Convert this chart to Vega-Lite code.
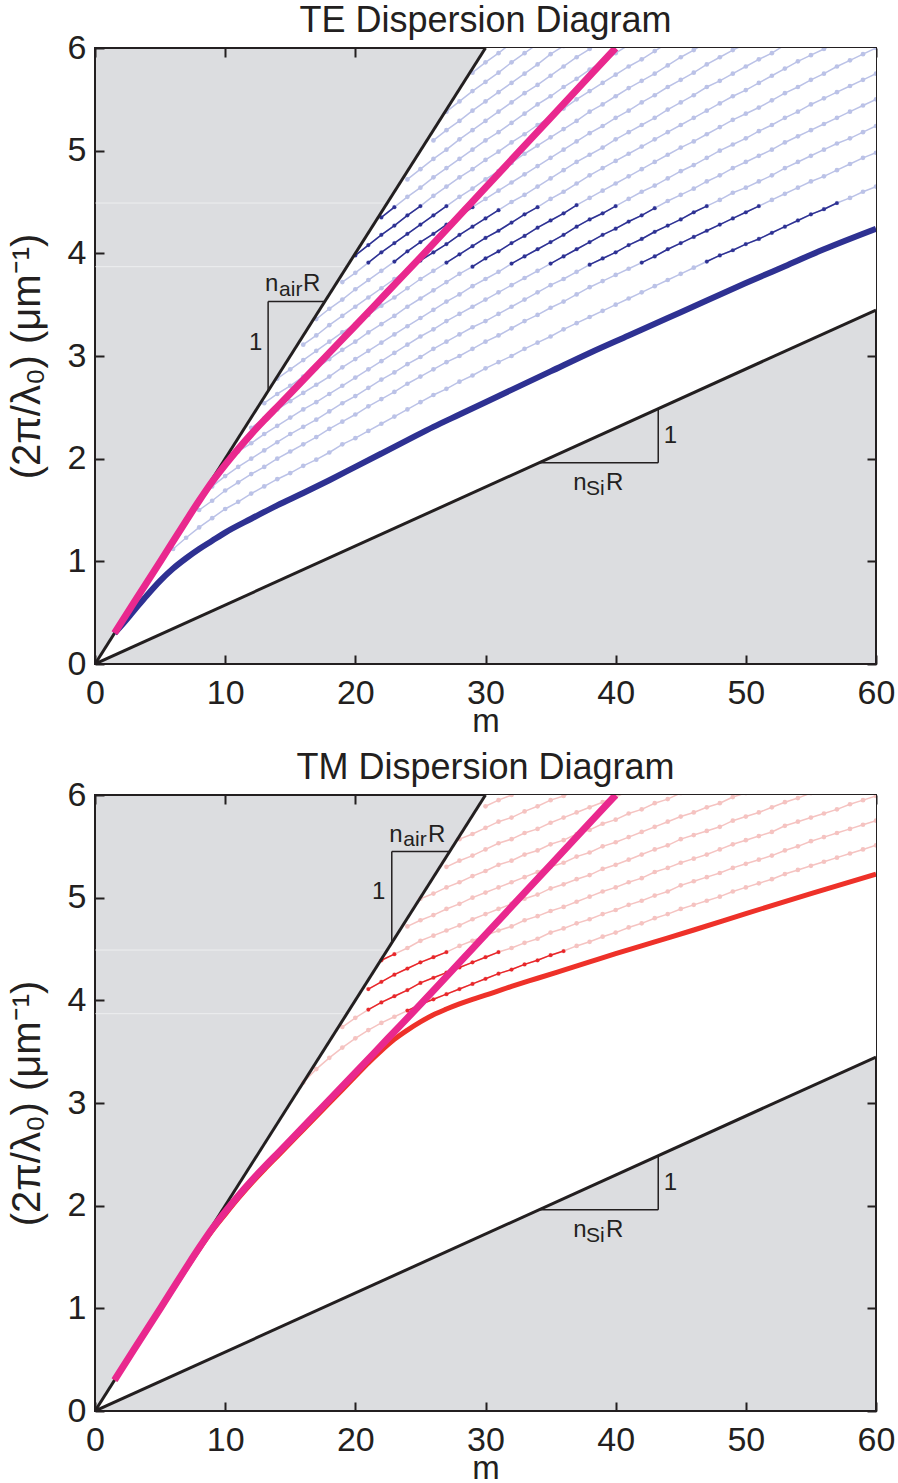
{
"$schema": "https://vega.github.io/schema/vega-lite/v6.json",
"background": "white",
"padding": {"left": 6, "top": 2, "right": 4, "bottom": 0},
"spacing": 10,
"config": {
 "view": {"stroke": "#231f20", "strokeWidth": 2, "fill": "#dcdde0"},
 "axis": {"labelFont": "Liberation Sans", "titleFont": "Liberation Sans", "labelFontSize": 34, "titleFontSize": 40, "titleFontWeight": "normal", "labelColor": "#231f20", "titleColor": "#231f20", "grid": false, "domain": false, "tickColor": "#231f20", "tickWidth": 2, "tickSize": -9, "labelFlush": false, "labelOverlap": false},
 "title": {"font": "Liberation Sans", "fontSize": 36, "fontWeight": "normal", "color": "#231f20", "offset": -9}
},
"datasets": {
 "bnd": [{"m":0,"hi":0,"lo":0},{"m":30,"hi":6,"lo":1.724},{"m":60,"hi":6,"lo":3.448}],
 "blk": [{"g":"air","m":0,"k":0},{"g":"air","m":30,"k":6},{"g":"si","m":0,"k":0},{"g":"si","m":60,"k":3.448}],
 "band": [{"m":0,"m2":19.35,"k":3.87},{"m":0,"m2":22.45,"k":4.49}],
 "triTE": [{"m":13.3,"m2":13.3,"k":2.66,"k2":3.53},{"m":13.3,"m2":17.65,"k":3.53,"k2":3.53},{"m":43.27,"m2":43.27,"k":1.96,"k2":2.49},{"m":34.1,"m2":43.27,"k":1.96,"k2":1.96}],
 "triTM": [{"m":22.8,"m2":22.8,"k":4.56,"k2":5.45},{"m":22.8,"m2":27.25,"k":5.45,"k2":5.45},{"m":43.27,"m2":43.27,"k":1.96,"k2":2.49},{"m":34.1,"m2":43.27,"k":1.96,"k2":1.96}],
 "bigTE": [{"t":"n","m":13.06,"k":3.63},{"t":"R","m":15.98,"k":3.63},{"t":"1","m":11.84,"k":3.06},{"t":"n","m":36.75,"k":1.69},{"t":"R","m":39.26,"k":1.69},{"t":"1","m":43.7,"k":2.15}],
 "subTE": [{"t":"air","m":14.14,"k":3.585},{"t":"Si","m":37.72,"k":1.645}],
 "bigTM": [{"t":"n","m":22.61,"k":5.545},{"t":"R","m":25.58,"k":5.545},{"t":"1","m":21.29,"k":4.99},{"t":"n","m":36.75,"k":1.69},{"t":"R","m":39.26,"k":1.69},{"t":"1","m":43.7,"k":2.15}],
 "subTM": [{"t":"air","m":23.69,"k":5.5},{"t":"Si","m":37.72,"k":1.645}],
 "mag": [{"m":1.5,"k":0.3},{"m":3,"k":0.6},{"m":5,"k":0.995},{"m":7,"k":1.395},{"m":8,"k":1.59},{"m":9,"k":1.775},{"m":10,"k":1.94},{"m":11,"k":2.095},{"m":12,"k":2.24},{"m":13,"k":2.375},{"m":14,"k":2.505},{"m":15,"k":2.635},{"m":17.5,"k":2.965},{"m":20,"k":3.295},{"m":22.5,"k":3.628},{"m":25,"k":3.96},{"m":30,"k":4.64},{"m":35,"k":5.32},{"m":40,"k":6.0}],
 "te1": [{"m":1.5,"k":0.3},{"m":2,"k":0.37},{"m":3,"k":0.52},{"m":4,"k":0.67},{"m":5,"k":0.81},{"m":6,"k":0.93},{"m":7,"k":1.03},{"m":8,"k":1.12},{"m":9,"k":1.2},{"m":10,"k":1.28},{"m":12,"k":1.415},{"m":14,"k":1.545},{"m":16,"k":1.665},{"m":18,"k":1.79},{"m":20,"k":1.92},{"m":22,"k":2.05},{"m":24,"k":2.18},{"m":26,"k":2.31},{"m":28,"k":2.43},{"m":30,"k":2.55},{"m":32,"k":2.67},{"m":35,"k":2.85},{"m":38,"k":3.03},{"m":41,"k":3.2},{"m":44,"k":3.37},{"m":47,"k":3.54},{"m":50,"k":3.71},{"m":53,"k":3.875},{"m":56,"k":4.04},{"m":60,"k":4.24}],
 "tm1": [{"m":1.5,"k":0.3},{"m":3,"k":0.6},{"m":5,"k":0.99},{"m":7,"k":1.385},{"m":8,"k":1.575},{"m":9,"k":1.755},{"m":10,"k":1.915},{"m":11,"k":2.07},{"m":12,"k":2.215},{"m":13,"k":2.35},{"m":14,"k":2.48},{"m":16,"k":2.74},{"m":18,"k":3.0},{"m":19,"k":3.13},{"m":20,"k":3.26},{"m":21,"k":3.39},{"m":22,"k":3.51},{"m":23,"k":3.62},{"m":24,"k":3.71},{"m":25,"k":3.79},{"m":26,"k":3.86},{"m":27,"k":3.915},{"m":28,"k":3.965},{"m":29,"k":4.01},{"m":30,"k":4.05},{"m":32,"k":4.135},{"m":34,"k":4.215},{"m":36,"k":4.295},{"m":38,"k":4.375},{"m":40,"k":4.455},{"m":43,"k":4.57},{"m":46,"k":4.685},{"m":50,"k":4.845},{"m":55,"k":5.04},{"m":60,"k":5.23}],
 "te": [
{"c":2,"m":6,"k":1.12},{"c":2,"m":7,"k":1.23},{"c":2,"m":8,"k":1.33},{"c":2,"m":9,"k":1.42},{"c":2,"m":10,"k":1.51},{"c":2,"m":11,"k":1.58},{"c":2,"m":12,"k":1.66},{"c":2,"m":13,"k":1.73},{"c":2,"m":14,"k":1.8},{"c":2,"m":15,"k":1.86},{"c":2,"m":16,"k":1.93},{"c":2,"m":17,"k":1.99},{"c":2,"m":18,"k":2.06},{"c":2,"m":19,"k":2.14},{"c":2,"m":20,"k":2.2},{"c":2,"m":21,"k":2.27},{"c":2,"m":22,"k":2.34},{"c":2,"m":23,"k":2.41},{"c":2,"m":24,"k":2.48},{"c":2,"m":25,"k":2.55},{"c":2,"m":26,"k":2.62},{"c":2,"m":27,"k":2.68},{"c":2,"m":28,"k":2.75},{"c":2,"m":29,"k":2.81},{"c":2,"m":30,"k":2.88},{"c":2,"m":31,"k":2.94},{"c":2,"m":32,"k":3.0},{"c":2,"m":33,"k":3.07},{"c":2,"m":34,"k":3.13},{"c":2,"m":35,"k":3.19},{"c":2,"m":36,"k":3.26},{"c":2,"m":37,"k":3.32},{"c":2,"m":38,"k":3.38},{"c":2,"m":39,"k":3.44},{"c":2,"m":40,"k":3.5},{"c":2,"m":41,"k":3.56},{"c":2,"m":42,"k":3.62},{"c":2,"m":43,"k":3.68},{"c":2,"m":44,"k":3.74},{"c":2,"m":45,"k":3.8},{"c":2,"m":46,"k":3.86},{"c":2,"m":47,"k":3.92},{"c":2,"m":48,"k":3.98},{"c":2,"m":49,"k":4.03},{"c":2,"m":50,"k":4.09},{"c":2,"m":51,"k":4.14},{"c":2,"m":52,"k":4.2},{"c":2,"m":53,"k":4.26},{"c":2,"m":54,"k":4.32},{"c":2,"m":55,"k":4.38},{"c":2,"m":56,"k":4.43},{"c":2,"m":57,"k":4.49},{"c":2,"m":58,"k":4.54},{"c":2,"m":59,"k":4.6},{"c":2,"m":60,"k":4.65},
{"c":3,"m":8,"k":1.5},{"c":3,"m":9,"k":1.59},{"c":3,"m":10,"k":1.69},{"c":3,"m":11,"k":1.77},{"c":3,"m":12,"k":1.85},{"c":3,"m":13,"k":1.92},{"c":3,"m":14,"k":2.0},{"c":3,"m":15,"k":2.07},{"c":3,"m":16,"k":2.14},{"c":3,"m":17,"k":2.21},{"c":3,"m":18,"k":2.29},{"c":3,"m":19,"k":2.36},{"c":3,"m":20,"k":2.43},{"c":3,"m":21,"k":2.51},{"c":3,"m":22,"k":2.58},{"c":3,"m":23,"k":2.65},{"c":3,"m":24,"k":2.73},{"c":3,"m":25,"k":2.8},{"c":3,"m":26,"k":2.87},{"c":3,"m":27,"k":2.94},{"c":3,"m":28,"k":3.0},{"c":3,"m":29,"k":3.07},{"c":3,"m":30,"k":3.14},{"c":3,"m":31,"k":3.2},{"c":3,"m":32,"k":3.27},{"c":3,"m":33,"k":3.34},{"c":3,"m":34,"k":3.4},{"c":3,"m":35,"k":3.47},{"c":3,"m":36,"k":3.53},{"c":3,"m":37,"k":3.6},{"c":3,"m":38,"k":3.67},{"c":3,"m":39,"k":3.73},{"c":3,"m":40,"k":3.79},{"c":3,"m":41,"k":3.85},{"c":3,"m":42,"k":3.91},{"c":3,"m":43,"k":3.97},{"c":3,"m":44,"k":4.04},{"c":3,"m":45,"k":4.1},{"c":3,"m":46,"k":4.16},{"c":3,"m":47,"k":4.22},{"c":3,"m":48,"k":4.28},{"c":3,"m":49,"k":4.34},{"c":3,"m":50,"k":4.4},{"c":3,"m":51,"k":4.46},{"c":3,"m":52,"k":4.52},{"c":3,"m":53,"k":4.58},{"c":3,"m":54,"k":4.64},{"c":3,"m":55,"k":4.7},{"c":3,"m":56,"k":4.75},{"c":3,"m":57,"k":4.81},{"c":3,"m":58,"k":4.87},{"c":3,"m":59,"k":4.93},{"c":3,"m":60,"k":4.98},
{"c":4,"m":9,"k":1.73},{"c":4,"m":10,"k":1.83},{"c":4,"m":11,"k":1.92},{"c":4,"m":12,"k":2.0},{"c":4,"m":13,"k":2.08},{"c":4,"m":14,"k":2.16},{"c":4,"m":15,"k":2.24},{"c":4,"m":16,"k":2.31},{"c":4,"m":17,"k":2.38},{"c":4,"m":18,"k":2.46},{"c":4,"m":19,"k":2.54},{"c":4,"m":20,"k":2.61},{"c":4,"m":21,"k":2.69},{"c":4,"m":22,"k":2.77},{"c":4,"m":23,"k":2.84},{"c":4,"m":24,"k":2.92},{"c":4,"m":25,"k":2.99},{"c":4,"m":26,"k":3.07},{"c":4,"m":27,"k":3.14},{"c":4,"m":28,"k":3.21},{"c":4,"m":29,"k":3.28},{"c":4,"m":30,"k":3.34},{"c":4,"m":31,"k":3.41},{"c":4,"m":32,"k":3.48},{"c":4,"m":33,"k":3.55},{"c":4,"m":34,"k":3.62},{"c":4,"m":35,"k":3.69},{"c":4,"m":36,"k":3.75},{"c":4,"m":37,"k":3.82},{"c":4,"m":38,"k":3.89},{"c":4,"m":39,"k":3.95},{"c":4,"m":40,"k":4.01},{"c":4,"m":41,"k":4.08},{"c":4,"m":42,"k":4.14},{"c":4,"m":43,"k":4.21},{"c":4,"m":44,"k":4.27},{"c":4,"m":45,"k":4.33},{"c":4,"m":46,"k":4.4},{"c":4,"m":47,"k":4.46},{"c":4,"m":48,"k":4.52},{"c":4,"m":49,"k":4.59},{"c":4,"m":50,"k":4.64},{"c":4,"m":51,"k":4.7},{"c":4,"m":52,"k":4.76},{"c":4,"m":53,"k":4.83},{"c":4,"m":54,"k":4.89},{"c":4,"m":55,"k":4.95},{"c":4,"m":56,"k":5.01},{"c":4,"m":57,"k":5.07},{"c":4,"m":58,"k":5.12},{"c":4,"m":59,"k":5.18},{"c":4,"m":60,"k":5.24},
{"c":5,"m":10,"k":1.97},{"c":5,"m":11,"k":2.07},{"c":5,"m":12,"k":2.15},{"c":5,"m":13,"k":2.24},{"c":5,"m":14,"k":2.32},{"c":5,"m":15,"k":2.4},{"c":5,"m":16,"k":2.48},{"c":5,"m":17,"k":2.55},{"c":5,"m":18,"k":2.63},{"c":5,"m":19,"k":2.71},{"c":5,"m":20,"k":2.79},{"c":5,"m":21,"k":2.87},{"c":5,"m":22,"k":2.95},{"c":5,"m":23,"k":3.03},{"c":5,"m":24,"k":3.11},{"c":5,"m":25,"k":3.19},{"c":5,"m":26,"k":3.26},{"c":5,"m":27,"k":3.34},{"c":5,"m":28,"k":3.41},{"c":5,"m":29,"k":3.48},{"c":5,"m":30,"k":3.55},{"c":5,"m":31,"k":3.62},{"c":5,"m":32,"k":3.69},{"c":5,"m":33,"k":3.76},{"c":5,"m":34,"k":3.83},{"c":5,"m":35,"k":3.9},{"c":5,"m":36,"k":3.97},{"c":5,"m":37,"k":4.04},{"c":5,"m":38,"k":4.11},{"c":5,"m":39,"k":4.18},{"c":5,"m":40,"k":4.24},{"c":5,"m":41,"k":4.31},{"c":5,"m":42,"k":4.37},{"c":5,"m":43,"k":4.44},{"c":5,"m":44,"k":4.51},{"c":5,"m":45,"k":4.57},{"c":5,"m":46,"k":4.63},{"c":5,"m":47,"k":4.7},{"c":5,"m":48,"k":4.76},{"c":5,"m":49,"k":4.83},{"c":5,"m":50,"k":4.89},{"c":5,"m":51,"k":4.95},{"c":5,"m":52,"k":5.01},{"c":5,"m":53,"k":5.08},{"c":5,"m":54,"k":5.14},{"c":5,"m":55,"k":5.2},{"c":5,"m":56,"k":5.26},{"c":5,"m":57,"k":5.32},{"c":5,"m":58,"k":5.38},{"c":5,"m":59,"k":5.44},{"c":5,"m":60,"k":5.5},
{"c":6,"m":12,"k":2.3},{"c":6,"m":13,"k":2.39},{"c":6,"m":14,"k":2.48},{"c":6,"m":15,"k":2.56},{"c":6,"m":16,"k":2.64},{"c":6,"m":17,"k":2.72},{"c":6,"m":18,"k":2.8},{"c":6,"m":19,"k":2.89},{"c":6,"m":20,"k":2.97},{"c":6,"m":21,"k":3.05},{"c":6,"m":22,"k":3.13},{"c":6,"m":23,"k":3.21},{"c":6,"m":24,"k":3.29},{"c":6,"m":25,"k":3.37},{"c":6,"m":26,"k":3.45},{"c":6,"m":27,"k":3.53},{"c":6,"m":28,"k":3.6},{"c":6,"m":29,"k":3.68},{"c":6,"m":30,"k":3.75},{"c":6,"m":31,"k":3.82},{"c":6,"m":32,"k":3.9},{"c":6,"m":33,"k":3.97},{"c":6,"m":34,"k":4.04},{"c":6,"m":35,"k":4.11},{"c":6,"m":36,"k":4.18},{"c":6,"m":37,"k":4.26},{"c":6,"m":38,"k":4.33},{"c":6,"m":39,"k":4.39},{"c":6,"m":40,"k":4.46},{"c":6,"m":41,"k":4.53},{"c":6,"m":42,"k":4.6},{"c":6,"m":43,"k":4.66},{"c":6,"m":44,"k":4.73},{"c":6,"m":45,"k":4.8},{"c":6,"m":46,"k":4.86},{"c":6,"m":47,"k":4.93},{"c":6,"m":48,"k":5.0},{"c":6,"m":49,"k":5.06},{"c":6,"m":50,"k":5.12},{"c":6,"m":51,"k":5.19},{"c":6,"m":52,"k":5.25},{"c":6,"m":53,"k":5.32},{"c":6,"m":54,"k":5.38},{"c":6,"m":55,"k":5.45},{"c":6,"m":56,"k":5.51},{"c":6,"m":57,"k":5.57},{"c":6,"m":58,"k":5.63},{"c":6,"m":59,"k":5.69},{"c":6,"m":60,"k":5.75},
{"c":7,"m":13,"k":2.54},{"c":7,"m":14,"k":2.63},{"c":7,"m":15,"k":2.71},{"c":7,"m":16,"k":2.8},{"c":7,"m":17,"k":2.88},{"c":7,"m":18,"k":2.97},{"c":7,"m":19,"k":3.06},{"c":7,"m":20,"k":3.14},{"c":7,"m":21,"k":3.23},{"c":7,"m":22,"k":3.31},{"c":7,"m":23,"k":3.39},{"c":7,"m":24,"k":3.48},{"c":7,"m":25,"k":3.56},{"c":7,"m":26,"k":3.64},{"c":7,"m":27,"k":3.72},{"c":7,"m":28,"k":3.8},{"c":7,"m":29,"k":3.87},{"c":7,"m":30,"k":3.95},{"c":7,"m":31,"k":4.02},{"c":7,"m":32,"k":4.1},{"c":7,"m":33,"k":4.17},{"c":7,"m":34,"k":4.25},{"c":7,"m":35,"k":4.32},{"c":7,"m":36,"k":4.39},{"c":7,"m":37,"k":4.47},{"c":7,"m":38,"k":4.54},{"c":7,"m":39,"k":4.61},{"c":7,"m":40,"k":4.68},{"c":7,"m":41,"k":4.75},{"c":7,"m":42,"k":4.82},{"c":7,"m":43,"k":4.89},{"c":7,"m":44,"k":4.96},{"c":7,"m":45,"k":5.03},{"c":7,"m":46,"k":5.09},{"c":7,"m":47,"k":5.16},{"c":7,"m":48,"k":5.23},{"c":7,"m":49,"k":5.3},{"c":7,"m":50,"k":5.36},{"c":7,"m":51,"k":5.42},{"c":7,"m":52,"k":5.49},{"c":7,"m":53,"k":5.56},{"c":7,"m":54,"k":5.62},{"c":7,"m":55,"k":5.69},{"c":7,"m":56,"k":5.75},{"c":7,"m":57,"k":5.82},{"c":7,"m":58,"k":5.88},{"c":7,"m":59,"k":5.94},{"c":7,"m":60,"k":6.0},
{"c":8,"m":14,"k":2.78},{"c":8,"m":15,"k":2.87},{"c":8,"m":16,"k":2.96},{"c":8,"m":17,"k":3.05},{"c":8,"m":18,"k":3.14},{"c":8,"m":19,"k":3.23},{"c":8,"m":20,"k":3.31},{"c":8,"m":21,"k":3.4},{"c":8,"m":22,"k":3.49},{"c":8,"m":23,"k":3.57},{"c":8,"m":24,"k":3.66},{"c":8,"m":25,"k":3.75},{"c":8,"m":26,"k":3.83},{"c":8,"m":27,"k":3.91},{"c":8,"m":28,"k":3.99},{"c":8,"m":29,"k":4.07},{"c":8,"m":30,"k":4.15},{"c":8,"m":31,"k":4.22},{"c":8,"m":32,"k":4.3},{"c":8,"m":33,"k":4.38},{"c":8,"m":34,"k":4.45},{"c":8,"m":35,"k":4.53},{"c":8,"m":36,"k":4.6},{"c":8,"m":37,"k":4.68},{"c":8,"m":38,"k":4.76},{"c":8,"m":39,"k":4.83},{"c":8,"m":40,"k":4.9},{"c":8,"m":41,"k":4.97},{"c":8,"m":42,"k":5.04},{"c":8,"m":43,"k":5.11},{"c":8,"m":44,"k":5.18},{"c":8,"m":45,"k":5.25},{"c":8,"m":46,"k":5.32},{"c":8,"m":47,"k":5.39},{"c":8,"m":48,"k":5.46},{"c":8,"m":49,"k":5.53},{"c":8,"m":50,"k":5.59},{"c":8,"m":51,"k":5.66},{"c":8,"m":52,"k":5.73},{"c":8,"m":53,"k":5.8},{"c":8,"m":54,"k":5.87},{"c":8,"m":55,"k":5.93},{"c":8,"m":56,"k":5.99},{"c":8,"m":57,"k":6.06},
{"c":9,"m":16,"k":3.11},{"c":9,"m":17,"k":3.2},{"c":9,"m":18,"k":3.3},{"c":9,"m":19,"k":3.39},{"c":9,"m":20,"k":3.48},{"c":9,"m":21,"k":3.57},{"c":9,"m":22,"k":3.66},{"c":9,"m":23,"k":3.75},{"c":9,"m":24,"k":3.84},{"c":9,"m":25,"k":3.93},{"c":9,"m":26,"k":4.01},{"c":9,"m":27,"k":4.09},{"c":9,"m":28,"k":4.18},{"c":9,"m":29,"k":4.26},{"c":9,"m":30,"k":4.34},{"c":9,"m":31,"k":4.42},{"c":9,"m":32,"k":4.5},{"c":9,"m":33,"k":4.57},{"c":9,"m":34,"k":4.65},{"c":9,"m":35,"k":4.73},{"c":9,"m":36,"k":4.81},{"c":9,"m":37,"k":4.89},{"c":9,"m":38,"k":4.96},{"c":9,"m":39,"k":5.03},{"c":9,"m":40,"k":5.11},{"c":9,"m":41,"k":5.18},{"c":9,"m":42,"k":5.25},{"c":9,"m":43,"k":5.32},{"c":9,"m":44,"k":5.4},{"c":9,"m":45,"k":5.47},{"c":9,"m":46,"k":5.54},{"c":9,"m":47,"k":5.62},{"c":9,"m":48,"k":5.68},{"c":9,"m":49,"k":5.75},{"c":9,"m":50,"k":5.82},{"c":9,"m":51,"k":5.89},{"c":9,"m":52,"k":5.95},{"c":9,"m":53,"k":6.03},
{"c":10,"m":17,"k":3.36},{"c":10,"m":18,"k":3.46},{"c":10,"m":19,"k":3.55},{"c":10,"m":20,"k":3.65},{"c":10,"m":21,"k":3.74},{"c":10,"m":22,"k":3.83},{"c":10,"m":23,"k":3.92},{"c":10,"m":24,"k":4.02},{"c":10,"m":25,"k":4.11},{"c":10,"m":26,"k":4.19},{"c":10,"m":27,"k":4.28},{"c":10,"m":28,"k":4.36},{"c":10,"m":29,"k":4.45},{"c":10,"m":30,"k":4.53},{"c":10,"m":31,"k":4.61},{"c":10,"m":32,"k":4.69},{"c":10,"m":33,"k":4.77},{"c":10,"m":34,"k":4.85},{"c":10,"m":35,"k":4.93},{"c":10,"m":36,"k":5.01},{"c":10,"m":37,"k":5.09},{"c":10,"m":38,"k":5.17},{"c":10,"m":39,"k":5.24},{"c":10,"m":40,"k":5.32},{"c":10,"m":41,"k":5.39},{"c":10,"m":42,"k":5.47},{"c":10,"m":43,"k":5.54},{"c":10,"m":44,"k":5.62},{"c":10,"m":45,"k":5.69},{"c":10,"m":46,"k":5.76},{"c":10,"m":47,"k":5.84},{"c":10,"m":48,"k":5.91},{"c":10,"m":49,"k":5.98},{"c":10,"m":50,"k":6.04},
{"c":11,"m":19,"k":3.72},{"c":11,"m":20,"k":3.81},{"c":11,"m":21,"k":3.91},{"c":11,"m":22,"k":4.01},{"c":11,"m":23,"k":4.1},{"c":11,"m":24,"k":4.19},{"c":11,"m":25,"k":4.28},{"c":11,"m":26,"k":4.37},{"c":11,"m":27,"k":4.46},{"c":11,"m":28,"k":4.55},{"c":11,"m":29,"k":4.63},{"c":11,"m":30,"k":4.72},{"c":11,"m":31,"k":4.8},{"c":11,"m":32,"k":4.88},{"c":11,"m":33,"k":4.97},{"c":11,"m":34,"k":5.05},{"c":11,"m":35,"k":5.13},{"c":11,"m":36,"k":5.21},{"c":11,"m":37,"k":5.29},{"c":11,"m":38,"k":5.38},{"c":11,"m":39,"k":5.45},{"c":11,"m":40,"k":5.53},{"c":11,"m":41,"k":5.61},{"c":11,"m":42,"k":5.68},{"c":11,"m":43,"k":5.75},{"c":11,"m":44,"k":5.83},{"c":11,"m":45,"k":5.91},{"c":11,"m":46,"k":5.98},{"c":11,"m":47,"k":6.06},
{"c":12,"m":20,"k":3.98},{"c":12,"m":21,"k":4.08},{"c":12,"m":22,"k":4.18},{"c":12,"m":23,"k":4.27},{"c":12,"m":24,"k":4.37},{"c":12,"m":25,"k":4.46},{"c":12,"m":26,"k":4.56},{"c":12,"m":27,"k":4.65},{"c":12,"m":28,"k":4.74},{"c":12,"m":29,"k":4.82},{"c":12,"m":30,"k":4.91},{"c":12,"m":31,"k":4.99},{"c":12,"m":32,"k":5.08},{"c":12,"m":33,"k":5.16},{"c":12,"m":34,"k":5.25},{"c":12,"m":35,"k":5.33},{"c":12,"m":36,"k":5.41},{"c":12,"m":37,"k":5.5},{"c":12,"m":38,"k":5.58},{"c":12,"m":39,"k":5.66},{"c":12,"m":40,"k":5.74},{"c":12,"m":41,"k":5.82},{"c":12,"m":42,"k":5.89},{"c":12,"m":43,"k":5.97},{"c":12,"m":44,"k":6.05},
{"c":13,"m":22,"k":4.35},{"c":13,"m":23,"k":4.45},{"c":13,"m":24,"k":4.55},{"c":13,"m":25,"k":4.64},{"c":13,"m":26,"k":4.74},{"c":13,"m":27,"k":4.83},{"c":13,"m":28,"k":4.92},{"c":13,"m":29,"k":5.01},{"c":13,"m":30,"k":5.1},{"c":13,"m":31,"k":5.18},{"c":13,"m":32,"k":5.27},{"c":13,"m":33,"k":5.36},{"c":13,"m":34,"k":5.45},{"c":13,"m":35,"k":5.53},{"c":13,"m":36,"k":5.62},{"c":13,"m":37,"k":5.7},{"c":13,"m":38,"k":5.79},{"c":13,"m":39,"k":5.87},{"c":13,"m":40,"k":5.95},{"c":13,"m":41,"k":6.03},
{"c":14,"m":24,"k":4.72},{"c":14,"m":25,"k":4.82},{"c":14,"m":26,"k":4.92},{"c":14,"m":27,"k":5.01},{"c":14,"m":28,"k":5.11},{"c":14,"m":29,"k":5.2},{"c":14,"m":30,"k":5.29},{"c":14,"m":31,"k":5.38},{"c":14,"m":32,"k":5.47},{"c":14,"m":33,"k":5.56},{"c":14,"m":34,"k":5.64},{"c":14,"m":35,"k":5.73},{"c":14,"m":36,"k":5.82},{"c":14,"m":37,"k":5.91},{"c":14,"m":38,"k":5.99},{"c":14,"m":39,"k":6.07},
{"c":15,"m":26,"k":5.1},{"c":15,"m":27,"k":5.2},{"c":15,"m":28,"k":5.29},{"c":15,"m":29,"k":5.39},{"c":15,"m":30,"k":5.48},{"c":15,"m":31,"k":5.57},{"c":15,"m":32,"k":5.66},{"c":15,"m":33,"k":5.75},{"c":15,"m":34,"k":5.84},{"c":15,"m":35,"k":5.94},{"c":15,"m":36,"k":6.02},
{"c":16,"m":27,"k":5.38},{"c":16,"m":28,"k":5.48},{"c":16,"m":29,"k":5.58},{"c":16,"m":30,"k":5.67},{"c":16,"m":31,"k":5.76},{"c":16,"m":32,"k":5.86},{"c":16,"m":33,"k":5.95},{"c":16,"m":34,"k":6.04},
{"c":17,"m":29,"k":5.76},{"c":17,"m":30,"k":5.86},{"c":17,"m":31,"k":5.95},{"c":17,"m":32,"k":6.05}
 ],
 "tm": [
{"c":2,"m":16,"k":3.2},{"c":2,"m":17,"k":3.33},{"c":2,"m":18,"k":3.44},{"c":2,"m":19,"k":3.54},{"c":2,"m":20,"k":3.63},{"c":2,"m":21,"k":3.71},{"c":2,"m":22,"k":3.78},{"c":2,"m":23,"k":3.84},{"c":2,"m":24,"k":3.9},{"c":2,"m":25,"k":3.96},{"c":2,"m":26,"k":4.01},{"c":2,"m":27,"k":4.06},{"c":2,"m":28,"k":4.11},{"c":2,"m":29,"k":4.16},{"c":2,"m":30,"k":4.21},{"c":2,"m":31,"k":4.26},{"c":2,"m":32,"k":4.3},{"c":2,"m":33,"k":4.35},{"c":2,"m":34,"k":4.39},{"c":2,"m":35,"k":4.44},{"c":2,"m":36,"k":4.48},{"c":2,"m":37,"k":4.53},{"c":2,"m":38,"k":4.57},{"c":2,"m":39,"k":4.62},{"c":2,"m":40,"k":4.66},{"c":2,"m":41,"k":4.71},{"c":2,"m":42,"k":4.75},{"c":2,"m":43,"k":4.8},{"c":2,"m":44,"k":4.84},{"c":2,"m":45,"k":4.89},{"c":2,"m":46,"k":4.93},{"c":2,"m":47,"k":4.97},{"c":2,"m":48,"k":5.01},{"c":2,"m":49,"k":5.06},{"c":2,"m":50,"k":5.1},{"c":2,"m":51,"k":5.14},{"c":2,"m":52,"k":5.18},{"c":2,"m":53,"k":5.23},{"c":2,"m":54,"k":5.27},{"c":2,"m":55,"k":5.31},{"c":2,"m":56,"k":5.35},{"c":2,"m":57,"k":5.39},{"c":2,"m":58,"k":5.43},{"c":2,"m":59,"k":5.47},{"c":2,"m":60,"k":5.51},
{"c":3,"m":19,"k":3.74},{"c":3,"m":20,"k":3.83},{"c":3,"m":21,"k":3.91},{"c":3,"m":22,"k":3.98},{"c":3,"m":23,"k":4.04},{"c":3,"m":24,"k":4.1},{"c":3,"m":25,"k":4.17},{"c":3,"m":26,"k":4.22},{"c":3,"m":27,"k":4.27},{"c":3,"m":28,"k":4.32},{"c":3,"m":29,"k":4.37},{"c":3,"m":30,"k":4.42},{"c":3,"m":31,"k":4.47},{"c":3,"m":32,"k":4.51},{"c":3,"m":33,"k":4.56},{"c":3,"m":34,"k":4.6},{"c":3,"m":35,"k":4.66},{"c":3,"m":36,"k":4.7},{"c":3,"m":37,"k":4.75},{"c":3,"m":38,"k":4.79},{"c":3,"m":39,"k":4.84},{"c":3,"m":40,"k":4.88},{"c":3,"m":41,"k":4.93},{"c":3,"m":42,"k":4.97},{"c":3,"m":43,"k":5.02},{"c":3,"m":44,"k":5.06},{"c":3,"m":45,"k":5.12},{"c":3,"m":46,"k":5.16},{"c":3,"m":47,"k":5.2},{"c":3,"m":48,"k":5.24},{"c":3,"m":49,"k":5.29},{"c":3,"m":50,"k":5.33},{"c":3,"m":51,"k":5.37},{"c":3,"m":52,"k":5.41},{"c":3,"m":53,"k":5.46},{"c":3,"m":54,"k":5.5},{"c":3,"m":55,"k":5.55},{"c":3,"m":56,"k":5.59},{"c":3,"m":57,"k":5.63},{"c":3,"m":58,"k":5.67},{"c":3,"m":59,"k":5.71},{"c":3,"m":60,"k":5.75},
{"c":4,"m":21,"k":4.11},{"c":4,"m":22,"k":4.18},{"c":4,"m":23,"k":4.25},{"c":4,"m":24,"k":4.31},{"c":4,"m":25,"k":4.37},{"c":4,"m":26,"k":4.42},{"c":4,"m":27,"k":4.47},{"c":4,"m":28,"k":4.53},{"c":4,"m":29,"k":4.58},{"c":4,"m":30,"k":4.63},{"c":4,"m":31,"k":4.68},{"c":4,"m":32,"k":4.72},{"c":4,"m":33,"k":4.78},{"c":4,"m":34,"k":4.82},{"c":4,"m":35,"k":4.87},{"c":4,"m":36,"k":4.91},{"c":4,"m":37,"k":4.96},{"c":4,"m":38,"k":5.01},{"c":4,"m":39,"k":5.06},{"c":4,"m":40,"k":5.1},{"c":4,"m":41,"k":5.15},{"c":4,"m":42,"k":5.19},{"c":4,"m":43,"k":5.25},{"c":4,"m":44,"k":5.29},{"c":4,"m":45,"k":5.34},{"c":4,"m":46,"k":5.38},{"c":4,"m":47,"k":5.42},{"c":4,"m":48,"k":5.47},{"c":4,"m":49,"k":5.52},{"c":4,"m":50,"k":5.56},{"c":4,"m":51,"k":5.6},{"c":4,"m":52,"k":5.64},{"c":4,"m":53,"k":5.7},{"c":4,"m":54,"k":5.74},{"c":4,"m":55,"k":5.78},{"c":4,"m":56,"k":5.82},{"c":4,"m":57,"k":5.86},{"c":4,"m":58,"k":5.91},{"c":4,"m":59,"k":5.95},{"c":4,"m":60,"k":5.99},
{"c":5,"m":22,"k":4.39},{"c":5,"m":23,"k":4.45},{"c":5,"m":24,"k":4.51},{"c":5,"m":25,"k":4.58},{"c":5,"m":26,"k":4.63},{"c":5,"m":27,"k":4.68},{"c":5,"m":28,"k":4.73},{"c":5,"m":29,"k":4.79},{"c":5,"m":30,"k":4.84},{"c":5,"m":31,"k":4.89},{"c":5,"m":32,"k":4.94},{"c":5,"m":33,"k":4.99},{"c":5,"m":34,"k":5.03},{"c":5,"m":35,"k":5.09},{"c":5,"m":36,"k":5.13},{"c":5,"m":37,"k":5.18},{"c":5,"m":38,"k":5.22},{"c":5,"m":39,"k":5.28},{"c":5,"m":40,"k":5.32},{"c":5,"m":41,"k":5.37},{"c":5,"m":42,"k":5.42},{"c":5,"m":43,"k":5.47},{"c":5,"m":44,"k":5.51},{"c":5,"m":45,"k":5.57},{"c":5,"m":46,"k":5.61},{"c":5,"m":47,"k":5.65},{"c":5,"m":48,"k":5.69},{"c":5,"m":49,"k":5.75},{"c":5,"m":50,"k":5.79},{"c":5,"m":51,"k":5.83},{"c":5,"m":52,"k":5.88},{"c":5,"m":53,"k":5.93},{"c":5,"m":54,"k":5.97},{"c":5,"m":55,"k":6.02},
{"c":6,"m":24,"k":4.72},{"c":6,"m":25,"k":4.78},{"c":6,"m":26,"k":4.83},{"c":6,"m":27,"k":4.89},{"c":6,"m":28,"k":4.94},{"c":6,"m":29,"k":5.0},{"c":6,"m":30,"k":5.05},{"c":6,"m":31,"k":5.1},{"c":6,"m":32,"k":5.15},{"c":6,"m":33,"k":5.2},{"c":6,"m":34,"k":5.25},{"c":6,"m":35,"k":5.3},{"c":6,"m":36,"k":5.34},{"c":6,"m":37,"k":5.4},{"c":6,"m":38,"k":5.44},{"c":6,"m":39,"k":5.5},{"c":6,"m":40,"k":5.54},{"c":6,"m":41,"k":5.59},{"c":6,"m":42,"k":5.64},{"c":6,"m":43,"k":5.69},{"c":6,"m":44,"k":5.74},{"c":6,"m":45,"k":5.79},{"c":6,"m":46,"k":5.83},{"c":6,"m":47,"k":5.88},{"c":6,"m":48,"k":5.92},{"c":6,"m":49,"k":5.98},{"c":6,"m":50,"k":6.02},
{"c":7,"m":25,"k":4.99},{"c":7,"m":26,"k":5.04},{"c":7,"m":27,"k":5.1},{"c":7,"m":28,"k":5.15},{"c":7,"m":29,"k":5.21},{"c":7,"m":30,"k":5.26},{"c":7,"m":31,"k":5.32},{"c":7,"m":32,"k":5.36},{"c":7,"m":33,"k":5.42},{"c":7,"m":34,"k":5.46},{"c":7,"m":35,"k":5.52},{"c":7,"m":36,"k":5.56},{"c":7,"m":37,"k":5.62},{"c":7,"m":38,"k":5.66},{"c":7,"m":39,"k":5.72},{"c":7,"m":40,"k":5.76},{"c":7,"m":41,"k":5.82},{"c":7,"m":42,"k":5.86},{"c":7,"m":43,"k":5.92},{"c":7,"m":44,"k":5.96},{"c":7,"m":45,"k":6.02},
{"c":8,"m":27,"k":5.3},{"c":8,"m":28,"k":5.36},{"c":8,"m":29,"k":5.41},{"c":8,"m":30,"k":5.47},{"c":8,"m":31,"k":5.53},{"c":8,"m":32,"k":5.57},{"c":8,"m":33,"k":5.63},{"c":8,"m":34,"k":5.67},{"c":8,"m":35,"k":5.73},{"c":8,"m":36,"k":5.78},{"c":8,"m":37,"k":5.83},{"c":8,"m":38,"k":5.88},{"c":8,"m":39,"k":5.93},{"c":8,"m":40,"k":5.98},{"c":8,"m":41,"k":6.04},
{"c":9,"m":28,"k":5.57},{"c":9,"m":29,"k":5.62},{"c":9,"m":30,"k":5.68},{"c":9,"m":31,"k":5.74},{"c":9,"m":32,"k":5.78},{"c":9,"m":33,"k":5.84},{"c":9,"m":34,"k":5.89},{"c":9,"m":35,"k":5.95},{"c":9,"m":36,"k":5.99},{"c":9,"m":37,"k":6.05},
{"c":10,"m":30,"k":5.89},{"c":10,"m":31,"k":5.95},{"c":10,"m":32,"k":6.0},{"c":10,"m":33,"k":6.05}
 ]
},
"vconcat": [
 {
  "width": 781, "height": 616,
  "title": {"text": "TE Dispersion Diagram"},
  "resolve": {"axis": {"x": "independent", "y": "independent"}},
  "layer": [
   {"data": {"name": "bnd"}, "mark": {"type": "area", "color": "white"},
    "encoding": {
     "x": {"field": "m", "type": "quantitative", "scale": {"domain": [0, 60], "nice": false}, "axis": {"orient": "bottom", "values": [0,10,20,30,40,50,60], "title": "m", "titleFontSize": 33, "labelPadding": 21, "titlePadding": -5}},
     "y": {"field": "hi", "type": "quantitative", "scale": {"domain": [0, 6], "nice": false}, "axis": {"orient": "left", "values": [0,1,2,3,4,5,6], "title": "(2π/λ₀) (μm⁻¹)", "labelPadding": 18, "titlePadding": 20}},
     "y2": {"field": "lo"}}},
   {"data": {"name": "band"}, "mark": {"type": "rule", "color": "white", "opacity": 0.5, "strokeWidth": 1},
    "encoding": {"x": {"field": "m", "type": "quantitative", "scale": {"domain": [0, 60]}, "axis": null}, "x2": {"field": "m2"}, "y": {"field": "k", "type": "quantitative", "scale": {"domain": [0, 6]}, "axis": null}}},
   {"data": {"name": "te"}, "mark": {"type": "line", "color": "#bbc2e7", "strokeWidth": 1.5, "clip": true},
    "encoding": {"x": {"field": "m", "type": "quantitative", "scale": {"domain": [0, 60]}, "axis": null}, "y": {"field": "k", "type": "quantitative", "scale": {"domain": [0, 6]}, "axis": null}, "detail": {"field": "c", "type": "nominal"}}},
   {"data": {"name": "te"}, "mark": {"type": "point", "filled": true, "color": "#bbc2e7", "size": 22, "opacity": 1, "clip": true},
    "encoding": {"x": {"field": "m", "type": "quantitative", "scale": {"domain": [0, 60]}, "axis": null}, "y": {"field": "k", "type": "quantitative", "scale": {"domain": [0, 6]}, "axis": null}}},
   {"data": {"name": "te"}, "transform": [{"filter": {"field": "k", "range": [3.865, 4.495]}}], "mark": {"type": "line", "color": "#2e3192", "strokeWidth": 1.5, "clip": true},
    "encoding": {"x": {"field": "m", "type": "quantitative", "scale": {"domain": [0, 60]}, "axis": null}, "y": {"field": "k", "type": "quantitative", "scale": {"domain": [0, 6]}, "axis": null}, "detail": {"field": "c", "type": "nominal"}}},
   {"data": {"name": "te"}, "transform": [{"filter": {"field": "k", "range": [3.865, 4.495]}}], "mark": {"type": "point", "filled": true, "color": "#2e3192", "size": 14, "opacity": 1, "clip": true},
    "encoding": {"x": {"field": "m", "type": "quantitative", "scale": {"domain": [0, 60]}, "axis": null}, "y": {"field": "k", "type": "quantitative", "scale": {"domain": [0, 6]}, "axis": null}}},
   {"data": {"name": "blk"}, "mark": {"type": "line", "color": "#231f20", "strokeWidth": 3, "clip": true},
    "encoding": {
     "x": {"field": "m", "type": "quantitative", "scale": {"domain": [0, 60]}, "axis": {"orient": "top", "values": [0,10,20,30,40,50,60], "labels": false, "title": null}},
     "y": {"field": "k", "type": "quantitative", "scale": {"domain": [0, 6]}, "axis": {"orient": "right", "values": [0,1,2,3,4,5,6], "labels": false, "title": null}},
     "detail": {"field": "g", "type": "nominal"}}},
   {"data": {"name": "te1"}, "mark": {"type": "line", "color": "#2e3192", "strokeWidth": 6, "interpolate": "monotone", "clip": true},
    "encoding": {"x": {"field": "m", "type": "quantitative", "scale": {"domain": [0, 60]}, "axis": null}, "y": {"field": "k", "type": "quantitative", "scale": {"domain": [0, 6]}, "axis": null}}},
   {"data": {"name": "mag"}, "mark": {"type": "line", "color": "#e9288e", "strokeWidth": 7, "interpolate": "monotone", "clip": true},
    "encoding": {"x": {"field": "m", "type": "quantitative", "scale": {"domain": [0, 60]}, "axis": null}, "y": {"field": "k", "type": "quantitative", "scale": {"domain": [0, 6]}, "axis": null}}},
   {"data": {"name": "triTE"}, "mark": {"type": "rule", "color": "#231f20", "strokeWidth": 1.5},
    "encoding": {"x": {"field": "m", "type": "quantitative", "scale": {"domain": [0, 60]}, "axis": null}, "x2": {"field": "m2"}, "y": {"field": "k", "type": "quantitative", "scale": {"domain": [0, 6]}, "axis": null}, "y2": {"field": "k2"}}},
   {"data": {"name": "bigTE"}, "mark": {"type": "text", "font": "Liberation Sans", "fontSize": 24, "align": "left", "baseline": "alphabetic", "color": "#231f20"},
    "encoding": {"x": {"field": "m", "type": "quantitative", "scale": {"domain": [0, 60]}, "axis": null}, "y": {"field": "k", "type": "quantitative", "scale": {"domain": [0, 6]}, "axis": null}, "text": {"field": "t"}}},
   {"data": {"name": "subTE"}, "mark": {"type": "text", "font": "Liberation Sans", "fontSize": 21, "align": "left", "baseline": "alphabetic", "color": "#231f20"},
    "encoding": {"x": {"field": "m", "type": "quantitative", "scale": {"domain": [0, 60]}, "axis": null}, "y": {"field": "k", "type": "quantitative", "scale": {"domain": [0, 6]}, "axis": null}, "text": {"field": "t"}}}
  ]
 },
 {
  "width": 781, "height": 616,
  "title": {"text": "TM Dispersion Diagram"},
  "resolve": {"axis": {"x": "independent", "y": "independent"}},
  "layer": [
   {"data": {"name": "bnd"}, "mark": {"type": "area", "color": "white"},
    "encoding": {
     "x": {"field": "m", "type": "quantitative", "scale": {"domain": [0, 60], "nice": false}, "axis": {"orient": "bottom", "values": [0,10,20,30,40,50,60], "title": "m", "titleFontSize": 33, "labelPadding": 21, "titlePadding": -5}},
     "y": {"field": "hi", "type": "quantitative", "scale": {"domain": [0, 6], "nice": false}, "axis": {"orient": "left", "values": [0,1,2,3,4,5,6], "title": "(2π/λ₀) (μm⁻¹)", "labelPadding": 18, "titlePadding": 20}},
     "y2": {"field": "lo"}}},
   {"data": {"name": "band"}, "mark": {"type": "rule", "color": "white", "opacity": 0.5, "strokeWidth": 1},
    "encoding": {"x": {"field": "m", "type": "quantitative", "scale": {"domain": [0, 60]}, "axis": null}, "x2": {"field": "m2"}, "y": {"field": "k", "type": "quantitative", "scale": {"domain": [0, 6]}, "axis": null}}},
   {"data": {"name": "tm"}, "mark": {"type": "line", "color": "#f5c3c1", "strokeWidth": 1.5, "clip": true},
    "encoding": {"x": {"field": "m", "type": "quantitative", "scale": {"domain": [0, 60]}, "axis": null}, "y": {"field": "k", "type": "quantitative", "scale": {"domain": [0, 6]}, "axis": null}, "detail": {"field": "c", "type": "nominal"}}},
   {"data": {"name": "tm"}, "mark": {"type": "point", "filled": true, "color": "#f5c3c1", "size": 22, "opacity": 1, "clip": true},
    "encoding": {"x": {"field": "m", "type": "quantitative", "scale": {"domain": [0, 60]}, "axis": null}, "y": {"field": "k", "type": "quantitative", "scale": {"domain": [0, 6]}, "axis": null}}},
   {"data": {"name": "tm"}, "transform": [{"filter": {"field": "k", "range": [3.865, 4.495]}}], "mark": {"type": "line", "color": "#e8262a", "strokeWidth": 1.5, "clip": true},
    "encoding": {"x": {"field": "m", "type": "quantitative", "scale": {"domain": [0, 60]}, "axis": null}, "y": {"field": "k", "type": "quantitative", "scale": {"domain": [0, 6]}, "axis": null}, "detail": {"field": "c", "type": "nominal"}}},
   {"data": {"name": "tm"}, "transform": [{"filter": {"field": "k", "range": [3.865, 4.495]}}], "mark": {"type": "point", "filled": true, "color": "#e8262a", "size": 14, "opacity": 1, "clip": true},
    "encoding": {"x": {"field": "m", "type": "quantitative", "scale": {"domain": [0, 60]}, "axis": null}, "y": {"field": "k", "type": "quantitative", "scale": {"domain": [0, 6]}, "axis": null}}},
   {"data": {"name": "blk"}, "mark": {"type": "line", "color": "#231f20", "strokeWidth": 3, "clip": true},
    "encoding": {
     "x": {"field": "m", "type": "quantitative", "scale": {"domain": [0, 60]}, "axis": {"orient": "top", "values": [0,10,20,30,40,50,60], "labels": false, "title": null}},
     "y": {"field": "k", "type": "quantitative", "scale": {"domain": [0, 6]}, "axis": {"orient": "right", "values": [0,1,2,3,4,5,6], "labels": false, "title": null}},
     "detail": {"field": "g", "type": "nominal"}}},
   {"data": {"name": "tm1"}, "mark": {"type": "line", "color": "#ee3129", "strokeWidth": 5, "interpolate": "monotone", "clip": true},
    "encoding": {"x": {"field": "m", "type": "quantitative", "scale": {"domain": [0, 60]}, "axis": null}, "y": {"field": "k", "type": "quantitative", "scale": {"domain": [0, 6]}, "axis": null}}},
   {"data": {"name": "mag"}, "mark": {"type": "line", "color": "#e9288e", "strokeWidth": 7, "interpolate": "monotone", "clip": true},
    "encoding": {"x": {"field": "m", "type": "quantitative", "scale": {"domain": [0, 60]}, "axis": null}, "y": {"field": "k", "type": "quantitative", "scale": {"domain": [0, 6]}, "axis": null}}},
   {"data": {"name": "triTM"}, "mark": {"type": "rule", "color": "#231f20", "strokeWidth": 1.5},
    "encoding": {"x": {"field": "m", "type": "quantitative", "scale": {"domain": [0, 60]}, "axis": null}, "x2": {"field": "m2"}, "y": {"field": "k", "type": "quantitative", "scale": {"domain": [0, 6]}, "axis": null}, "y2": {"field": "k2"}}},
   {"data": {"name": "bigTM"}, "mark": {"type": "text", "font": "Liberation Sans", "fontSize": 24, "align": "left", "baseline": "alphabetic", "color": "#231f20"},
    "encoding": {"x": {"field": "m", "type": "quantitative", "scale": {"domain": [0, 60]}, "axis": null}, "y": {"field": "k", "type": "quantitative", "scale": {"domain": [0, 6]}, "axis": null}, "text": {"field": "t"}}},
   {"data": {"name": "subTM"}, "mark": {"type": "text", "font": "Liberation Sans", "fontSize": 21, "align": "left", "baseline": "alphabetic", "color": "#231f20"},
    "encoding": {"x": {"field": "m", "type": "quantitative", "scale": {"domain": [0, 60]}, "axis": null}, "y": {"field": "k", "type": "quantitative", "scale": {"domain": [0, 6]}, "axis": null}, "text": {"field": "t"}}}
  ]
 }
]
}
